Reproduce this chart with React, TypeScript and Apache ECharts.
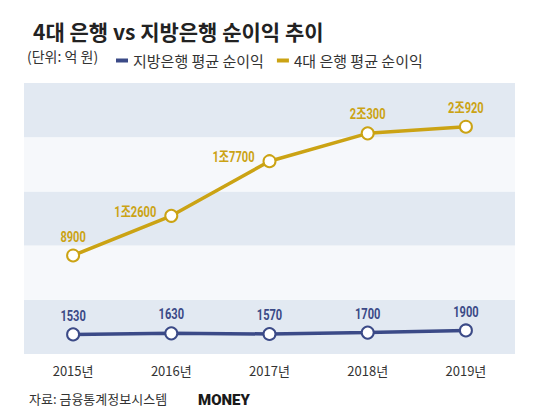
import React, { useEffect, useRef } from "react";
import * as echarts from "echarts";

const years = ["2015년", "2016년", "2017년", "2018년", "2019년"];
const localBank = [1530, 1630, 1570, 1700, 1900];
const bigFourBank = [8900, 12600, 17700, 20300, 20920];
const seriesNames = ["지방은행 평균 순이익", "4대 은행 평균 순이익"];
const bigFourLabelPos = ["top", "left", "left", "top", "top"];

const titleText = "4대 은행 vs 지방은행 순이익 추이";
const unitText = "(단위: 억 원)";
const sourceText = "자료: 금융통계정보시스템";
const brandText = "MONEY";

const BLUE = "#3b4a87";
const GOLD = "#cba314";
const NUM_FONT = "Roboto, 'Noto Sans CJK KR', sans-serif";
const KR_FONT = "'Noto Sans CJK KR', 'Noto Sans', sans-serif";

function fmt(v: number): string {
  if (v >= 10000) return `${Math.floor(v / 10000)}조${v % 10000}`;
  return `${v}`;
}

function labelSeries(values: number[], color: string, positions: string[]) {
  return {
    type: "custom",
    yAxisIndex: 0,
    silent: true,
    z: 5,
    data: values.map((v, i) => [i, v]),
    renderItem: (params: any, api: any) => {
      const idx = params.dataIndex;
      const pt = api.coord([api.value(0), api.value(1)]);
      const pos = positions[idx] || "top";
      const isLeft = pos === "left";
      const x = isLeft ? pt[0] - 15 : pt[0];
      const y = isLeft ? pt[1] - 4 : pt[1] - 19;
      return {
        type: "text",
        x,
        y,
        originX: 0,
        originY: 0,
        scaleX: 0.74,
        style: {
          text: fmt(values[idx]),
          fill: color,
          fontFamily: NUM_FONT,
          fontWeight: "bold",
          fontSize: 15,
          align: isLeft ? "right" : "center",
          verticalAlign: "middle",
        },
      };
    },
  };
}

export default function App() {
  const ref = useRef<HTMLDivElement>(null);
  useEffect(() => {
    document.body.style.margin = "0";
    if (!ref.current) return;
    const chart = echarts.init(ref.current, null, { renderer: "svg" });
    chart.setOption({
      animation: false,
      backgroundColor: "#ffffff",
      title: {
        text: titleText,
        left: 28,
        top: 15,
        textStyle: { fontFamily: KR_FONT, fontSize: 21, fontWeight: "bold", color: "#222222" },
      },
      legend: {
        left: 111,
        top: 48,
        itemWidth: 12,
        itemHeight: 4,
        itemGap: 13,
        icon: "rect",
        itemStyle: { borderWidth: 0 },
        data: [
          { name: seriesNames[0], itemStyle: { color: BLUE, borderWidth: 0 } },
          { name: seriesNames[1], itemStyle: { color: GOLD, borderWidth: 0 } },
        ],
        textStyle: { fontFamily: KR_FONT, fontSize: 15, color: "#333333" },
        selectedMode: false,
      },
      graphic: [
        {
          type: "text",
          left: 27,
          top: 49,
          style: { text: unitText, fontFamily: KR_FONT, fontSize: 14, fill: "#333333" },
        },
        {
          type: "text",
          left: 29,
          top: 392,
          style: { text: sourceText, fontFamily: KR_FONT, fontSize: 13, fill: "#333333" },
        },
        {
          type: "text",
          left: 198,
          top: 392,
          style: { text: brandText, fontFamily: "Roboto, 'Liberation Sans', sans-serif", fontSize: 15, fontWeight: 900, fill: "#1a1a1a" },
        },
      ],
      grid: { left: 24, right: 25, top: 83, bottom: 65 },
      xAxis: {
        type: "category",
        data: years,
        boundaryGap: true,
        axisLine: { show: false },
        axisTick: { show: false },
        axisLabel: { margin: 10, fontFamily: KR_FONT, fontSize: 13, color: "#333333" },
      },
      yAxis: [
        {
          type: "value",
          min: -300,
          max: 25000,
          show: false,
          splitLine: { show: false },
        },
        {
          type: "value",
          min: 0,
          max: 5,
          interval: 1,
          axisLine: { show: false },
          axisTick: { show: false },
          axisLabel: { show: false },
          splitLine: { show: false },
          splitArea: { show: true, areaStyle: { color: ["#e2e9f2", "#f6f8fb"] } },
        },
      ],
      series: [
        {
          name: seriesNames[0],
          type: "line",
          yAxisIndex: 0,
          data: localBank,
          symbol: "emptyCircle",
          symbolSize: 12,
          color: BLUE,
          lineStyle: { color: BLUE, width: 3.5 },
          itemStyle: { color: BLUE, borderColor: BLUE, borderWidth: 3.2 },
        },
        {
          name: seriesNames[1],
          type: "line",
          yAxisIndex: 0,
          data: bigFourBank,
          symbol: "emptyCircle",
          symbolSize: 12,
          color: GOLD,
          lineStyle: { color: GOLD, width: 3.5 },
          itemStyle: { color: GOLD, borderColor: GOLD, borderWidth: 3.2 },
        },
        labelSeries(localBank, BLUE, localBank.map(() => "top")),
        labelSeries(bigFourBank, GOLD, bigFourLabelPos),
      ],
    });
    return () => chart.dispose();
  }, []);
  return <div ref={ref} style={{ width: 540, height: 419 }} />;
}
